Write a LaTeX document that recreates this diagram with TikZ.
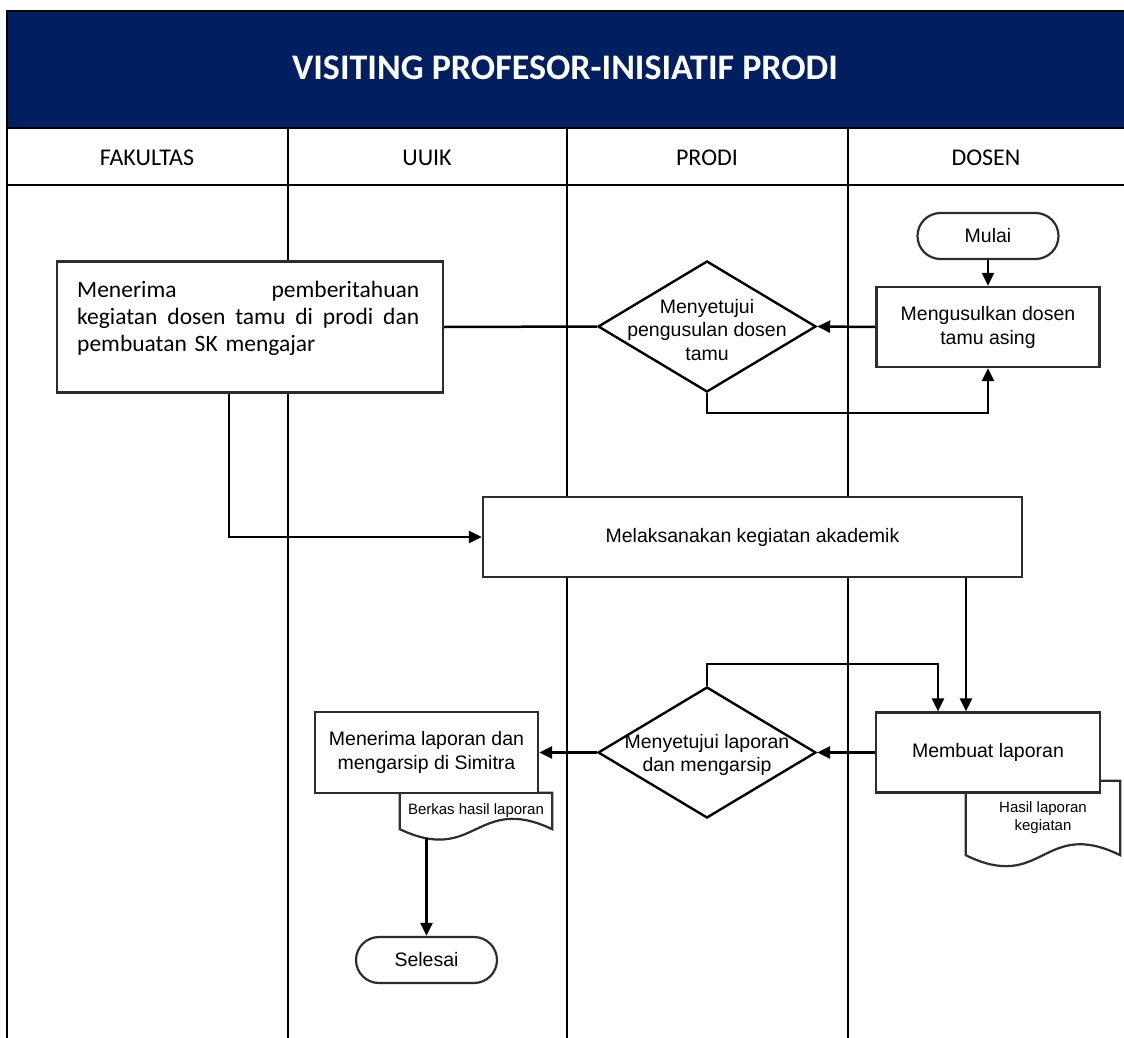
\documentclass[tikz,border=0pt]{standalone}
\usepackage{fontspec}
\setmainfont{Liberation Sans}
\newfontfamily\calibri{Carlito}
\usetikzlibrary{arrows.meta,shapes.geometric}

\definecolor{navy}{RGB}{0,31,96}
\definecolor{boxgray}{RGB}{45,45,45}

\tikzset{
  lane/.style={line width=2.4pt},
  proc/.style={draw=boxgray, line width=2.2pt, fill=white, align=center, inner sep=0pt,
    font=\fontsize{19.5}{24}\selectfont},
  term/.style={proc, rounded corners=23pt},
  dia/.style={diamond, draw=black, line width=2.4pt, fill=white, inner sep=0pt,
    minimum width=218pt, minimum height=131pt},
  diatext/.style={align=center, inner sep=0pt, font=\fontsize{19.5}{23.5}\selectfont},
  doc/.style={inner sep=0pt, align=center, font=\fontsize{15}{18}\selectfont},
  docline/.style={draw=boxgray, line width=2.2pt},
  head/.style={anchor=base, font=\calibri\fontsize{24}{28}\selectfont},
  conn/.style={line width=2.5pt},
  arr/.style={conn, -{Triangle[length=13pt,width=12pt]}},
}

\begin{document}
\begin{tikzpicture}[x=1pt, y=-1pt]
  \useasboundingbox (0,0) rectangle (1124,1038);

  % swimlanes
  \draw[lane, fill=navy] (7,11) rectangle (1130,128);
  \draw[lane] (7,128) rectangle (1130,1050);
  \draw[lane] (7,185) -- (1130,185);
  \draw[lane] (288,128) -- (288,1050);
  \draw[lane] (567,128) -- (567,1050);
  \draw[lane] (848,128) -- (848,1050);

  \node[font=\calibri\bfseries\fontsize{36}{42}\selectfont, text=white] (title) at (565,68) {VISITING PROFESOR-INISIATIF PRODI};
  \node[head] (hfak) at (147,165) {FAKULTAS};
  \node[head] (huuik) at (427,165) {UUIK};
  \node[head] (hprodi) at (707,165) {PRODI};
  \node[head] (hdosen) at (986,165) {DOSEN};

  % documents
  \node[doc, minimum width=154pt, minimum height=74pt] (hasil) at (1043,818) {Hasil laporan\\kegiatan};
  \draw[docline] (hasil.north east) -- (hasil.north west) -- (hasil.south west)
    .. controls +(77,38) and +(-77,-38) .. (hasil.south east) -- cycle;
  \node[doc, minimum width=152pt, minimum height=36pt] (berkas) at (476,811) {Berkas hasil laporan};
  \draw[docline] (berkas.north east) -- (berkas.north west) -- (berkas.south west)
    .. controls +(76,36) and +(-76,-36) .. (berkas.south east) -- cycle;

  % steps
  \node[term, minimum width=141pt, minimum height=46pt] (mulai) at (988,236) {Mulai};
  \node[proc, minimum width=223pt, minimum height=80pt] (usul) at (988,327) {Mengusulkan dosen\\tamu asing};
  \node[dia] (setuju1) at (707,326.5) {};
  \node[diatext] (setuju1t) at (707,330) {Menyetujui\\pengusulan dosen\\tamu};
  \node[proc, minimum width=386pt, minimum height=131pt] (fak) at (250,327) {};
  \node[anchor=north west, inner sep=0pt, text width=342pt,
    font=\calibri\fontsize{23.5}{27}\selectfont] (faktext) at (77,281)
    {\hbox to 342pt{Menerima\hfill pemberitahuan}
     \hbox to 342pt{kegiatan\hfill dosen\hfill tamu\hfill di\hfill prodi\hfill dan}
     \hbox{pembuatan SK mengajar}};
  \node[proc, minimum width=539pt, minimum height=80pt] (laks) at (752.5,537) {Melaksanakan kegiatan akademik};
  \node[proc, minimum width=224pt, minimum height=80pt] (buat) at (988,752.5) {Membuat laporan};
  \node[dia] (setuju2) at (707,752.5) {};
  \node[diatext] (setuju2t) at (707,755) {Menyetujui laporan\\dan mengarsip};
  \node[proc, minimum width=223pt, minimum height=81pt] (arsip) at (426.5,752.5) {Menerima laporan dan\\mengarsip di Simitra};
  \node[term, minimum width=141pt, minimum height=46pt] (selesai) at (426.5,960) {Selesai};

  % connectors
  \draw[arr] (mulai) -- (usul);
  \draw[arr] (usul.west) -- (setuju1.east);
  \draw[conn] (fak.east) -- (setuju1.west);
  \draw[arr] (setuju1.south) -- ++(0,20) -| (usul.south);
  \draw[arr] ([xshift=-21pt]fak.south) |- (laks.west);
  \draw[arr] ([xshift=-22pt]buat.north |- laks.south) -- ([xshift=-22pt]buat.north);
  \draw[arr] (setuju2.north) -- ++(0,-22) -| ([xshift=-50pt]buat.north);
  \draw[arr] (buat.west) -- (setuju2.east);
  \draw[arr] (setuju2.west) -- (arsip.east);
  \draw[arr] ([yshift=-9pt]berkas.south -| selesai.north) -- (selesai.north);
\end{tikzpicture}
\end{document}
